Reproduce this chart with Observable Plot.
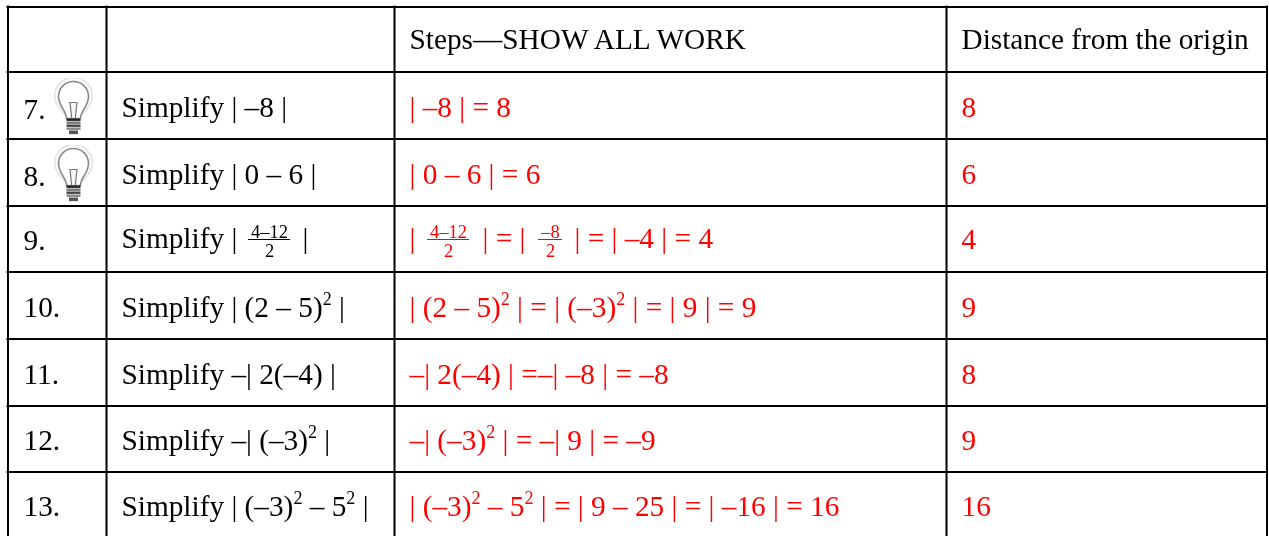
<!DOCTYPE html>
<html>
<head>
<meta charset="utf-8">
<script src="https://cdn.jsdelivr.net/npm/d3@7"></script>
<script src="https://cdn.jsdelivr.net/npm/@observablehq/plot@0.6"></script>
<style>
html,body{margin:0;padding:0;background:#fff;overflow:hidden}
svg{display:block;will-change:transform}
</style>
</head>
<body>
<div id="chart"></div>
<script>
// Table content
const problems = ["7.","8.","9.","10.","11.","12.","13."];
const prompts = ["Simplify | –8 |","Simplify | 0 – 6 |","Simplify |","Simplify | (2 – 5)^2 |","Simplify –| 2(–4) |","Simplify –| (–3)^2 |","Simplify | (–3)^2 – 5^2 |"];
const steps = ["| –8 | = 8","| 0 – 6 | = 6","","| (2 – 5)^2 | = | (–3)^2 | = | 9 | = 9","–| 2(–4) | =–| –8 | = –8","–| (–3)^2 | = –| 9 | = –9","| (–3)^2 – 5^2 | = | 9 – 25 | = | –16 | = 16"];
const distances = ["8","6","4","9","8","9","16"];
const headers = ["Steps—SHOW ALL WORK","Distance from the origin"];
// Layout grid of the table
const columnEdges = [7.5,106,394,946,1266.5];
const rowEdges = [6.5,71.5,138.5,205.5,271.5,338.5,405.5,471.5];
const textX = [23,121,409,961];
const numberBaselines = [118,185,249,316,383,449,515];
const baselines = [116,183,247,316,383,449,515];
const distanceBaselines = [116,183,248,316,383,449,515];
const headerBaseline = 48;
const W = 1269, H = 536;
const BLACK = "#000", RED = "#f00", FONT = "'Liberation Serif', serif", FS = 29.3;

const rows = problems.map((p,i)=>({p,prompt:prompts[i],step:steps[i],d:distances[i],y:baselines[i],ny:numberBaselines[i],dy:distanceBaselines[i]}));
// Pieces around the fractions in row 9
const row9Red = [{x:409,t:"|"},{x:482,t:"| = |"},{x:574,t:"| = | –4 | = 4"}];
const row9Black = [{x:302,t:"|"}];
const fractions = [
  {num:"4–12",den:"2",cx:269,x1:248,x2:290,y:238,fill:BLACK},
  {num:"4–12",den:"2",cx:448,x1:427,x2:469,y:238,fill:RED},
  {num:"–8",den:"2",cx:550,x1:538,x2:562,y:238,fill:RED}
];
const bulbs = [106,173];
const bulbSvg = `<svg xmlns="http://www.w3.org/2000/svg" viewBox="0 0 40 58"><path d="M11 37C7 32 1 27 1 19A19 19 0 1 1 39 19C39 27 33 32 29 37" fill="#fafafa" stroke="#e2e2e2" stroke-width="1.4"/><path d="M13 41C13 33 5 29 5 19A15 15 0 1 1 35 19C35 29 27 33 27 41Z" fill="#fff" stroke="#8a8a8a" stroke-width="1.6"/><path d="M16.5 25H23.5L21.8 41H18.2Z" fill="#f4f4f4" stroke="#777" stroke-width="1.2"/><rect x="13" y="41" width="14" height="2.4" fill="#222"/><rect x="13" y="44" width="14" height="2.4" fill="#777"/><rect x="13" y="47" width="14" height="2.4" fill="#444"/><rect x="13" y="50" width="14" height="2.4" fill="#888"/><rect x="15.5" y="53" width="9" height="3.6" fill="#555"/></svg>`;
const bulbSrc = "data:image/svg+xml;charset=utf-8," + encodeURIComponent(bulbSvg);

const txt = (data,opts)=>Plot.text(data,{textAnchor:"start",lineAnchor:"bottom",fontSize:FS,...opts});
const plot = Plot.plot({
  width:W,height:H,margin:0,
  style:{background:"#fff",fontFamily:FONT},
  x:{domain:[0,W],range:[0,W],axis:null},
  y:{domain:[0,H],range:[0,H],axis:null},
  marks:[
    Plot.ruleY(rowEdges,{y:d=>d,x1:columnEdges[0]-1,x2:columnEdges[4]+1,stroke:BLACK,strokeWidth:2}),
    Plot.ruleX(columnEdges,{x:d=>d,y1:rowEdges[0]-1,y2:H,stroke:BLACK,strokeWidth:2}),
    Plot.image(bulbs,{x:()=>73,y:d=>d,width:40,height:58,src:()=>bulbSrc}),
    txt(headers,{x:(d,i)=>textX[i+2],y:()=>headerBaseline,text:d=>d,fill:BLACK}),
    txt(rows,{x:()=>textX[0],y:"ny",text:"p",fill:BLACK}),
    txt(rows,{x:()=>textX[1],y:"y",text:"prompt",fill:BLACK}),
    txt(rows,{x:()=>textX[2],y:"y",text:"step",fill:RED}),
    txt(rows,{x:()=>textX[3],y:"dy",text:"d",fill:RED}),
    txt(row9Red,{x:"x",y:()=>baselines[2],text:"t",fill:RED}),
    txt(row9Black,{x:"x",y:()=>baselines[2],text:"t",fill:BLACK}),
    Plot.text(fractions,{x:"cx",y:d=>d.y-1,text:"num",fill:"fill",fontSize:18.5,lineAnchor:"bottom",textAnchor:"middle"}),
    Plot.text(fractions,{x:"cx",y:d=>d.y+18,text:"den",fill:"fill",fontSize:18.5,lineAnchor:"bottom",textAnchor:"middle"}),
    Plot.ruleY(fractions,{y:d=>d.y+1,x1:"x1",x2:"x2",stroke:"fill",strokeWidth:1})
  ]
});
// Exponents written as ^2 become raised tspans of the same text element
plot.querySelectorAll("text").forEach(t=>{
  const src = t.textContent;
  if(!src.includes("^")) return;
  const tgt = t.querySelector("tspan") || t;
  tgt.textContent = "";
  const ns = "http://www.w3.org/2000/svg";
  src.split("^").forEach((part,i)=>{
    const mk = (s,attrs)=>{const e=document.createElementNS(ns,"tspan");e.textContent=s;for(const k in attrs)e.setAttribute(k,attrs[k]);tgt.appendChild(e);};
    if(i===0){mk(part,{});return;}
    mk(part[0],{dy:"-12",style:"font-size:18px"});
    mk(part.slice(1),{dy:"12"});
  });
});
document.getElementById("chart").appendChild(plot);
</script>
</body>
</html>
